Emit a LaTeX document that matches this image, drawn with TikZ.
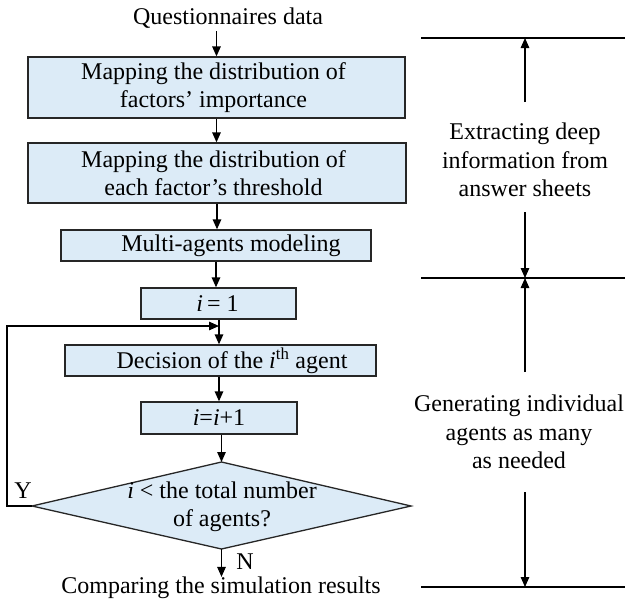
\documentclass[tikz,border=0pt]{standalone}
\usepackage{fontspec}
\setmainfont{Liberation Serif}
\usetikzlibrary{arrows.meta}
\definecolor{boxfill}{HTML}{DCEBF7}
\begin{document}
\begin{tikzpicture}[x=1pt,y=-1pt,
  every node/.style={font=\fontsize{24}{28.5}\selectfont, inner sep=0pt},
  procbox/.style={draw=black!85, line width=1.3pt, fill=boxfill, align=center},
  txt/.style={align=center},
  arr/.style={line width=1.3pt, -{Triangle[length=10pt,width=8.5pt]}},
  ln/.style={line width=1.3pt}]
\useasboundingbox (0,0) rectangle (625,611);

% left flow
\node[txt] (q) at (228,18) {Questionnaires data};
\node[procbox, minimum width=377pt, minimum height=61pt] (b1) at (216.5,87.5) {};
\node[txt] (b1t) at (213.5,87.5) {Mapping the distribution of\\factors’ importance};
\node[procbox, minimum width=378pt, minimum height=60pt] (b2) at (217,173) {};
\node[txt] (b2t) at (213.5,173) {Mapping the distribution of\\each factor’s threshold};
\node[procbox, minimum width=310pt, minimum height=31pt] (b3) at (216,245.5) {};
\node[txt] (b3t) at (231,245.5) {Multi-agents modeling};
\node[procbox, minimum width=155pt, minimum height=31pt] (b4) at (218.5,303.5) {};
\node[txt] (b4t) at (217.5,303.5) {\textit{i}\,= 1};
\node[procbox, minimum width=311pt, minimum height=31pt] (b5) at (220.5,360.5) {};
\node[txt] (b5t) at (232,360.5) {Decision of the \textit{i}\textsuperscript{th} agent};
\node[procbox, minimum width=156pt, minimum height=32pt] (b6) at (219,418) {};
\node[txt] (b6t) at (219,418) {\textit{i}=\textit{i}+1};

% decision diamond
\coordinate (dt) at (221.5,462);
\coordinate (dr) at (411,506);
\coordinate (db) at (221.5,549);
\coordinate (dl) at (32,506);
\draw[ln, draw=black!85, fill=boxfill, line join=miter] (dt) -- (dr) -- (db) -- (dl) -- cycle;
\node[txt] (dtxt) at (222,507) {\textit{i} < the total number\\of agents?};
\node[txt] (res) at (221,588) {Comparing the simulation results};
\node (ylab) at (23,491) {Y};
\node (nlab) at (245,562) {N};

% connectors
\coordinate (fb) at (219,326);
\draw[arr] (q.south -| b1.north) ++(0,3) -- (b1.north);
\draw[arr] (b1.south) -- (b1.south |- b2.north);
\draw[arr] (b2.south) -- (b2.south |- b3.north);
\draw[arr] (b3.south) -- (b3.south |- b4.north);
\draw[ln] (b4.south -| fb) -- (fb);
\draw[arr] (fb) -- (fb |- b5.north);
\draw[arr] (b5.south -| b6.north) -- (b6.north);
\draw[arr] (b6.south -| dt) -- (dt);
\draw[arr] (dl) -- (7,506) |- (fb);
\draw[arr] (db) -- (res.north -| db);

% right side
\coordinate (l1a) at (421,38);  \coordinate (l1b) at (625,38);
\coordinate (l2a) at (421,278); \coordinate (l2b) at (625,278);
\coordinate (l3a) at (421,587); \coordinate (l3b) at (625,587);
\draw[ln] (l1a) -- (l1b);
\draw[ln] (l2a) -- (l2b);
\draw[ln] (l3a) -- (l3b);
\node[txt] (t1) at (525,160) {Extracting deep\\information from\\answer sheets};
\node[txt] (t2) at (519,432) {Generating individual\\agents as many\\as needed};
\coordinate (a1) at (525,102);
\coordinate (a2) at (525,212);
\coordinate (a3) at (525,372);
\coordinate (a4) at (525,492);
\draw[arr] (a1) -- (a1 |- l1a);
\draw[arr] (a2) -- (a2 |- l2a);
\draw[arr] (a3) -- (a3 |- l2a);
\draw[arr] (a4) -- (a4 |- l3a);
\end{tikzpicture}
\end{document}
